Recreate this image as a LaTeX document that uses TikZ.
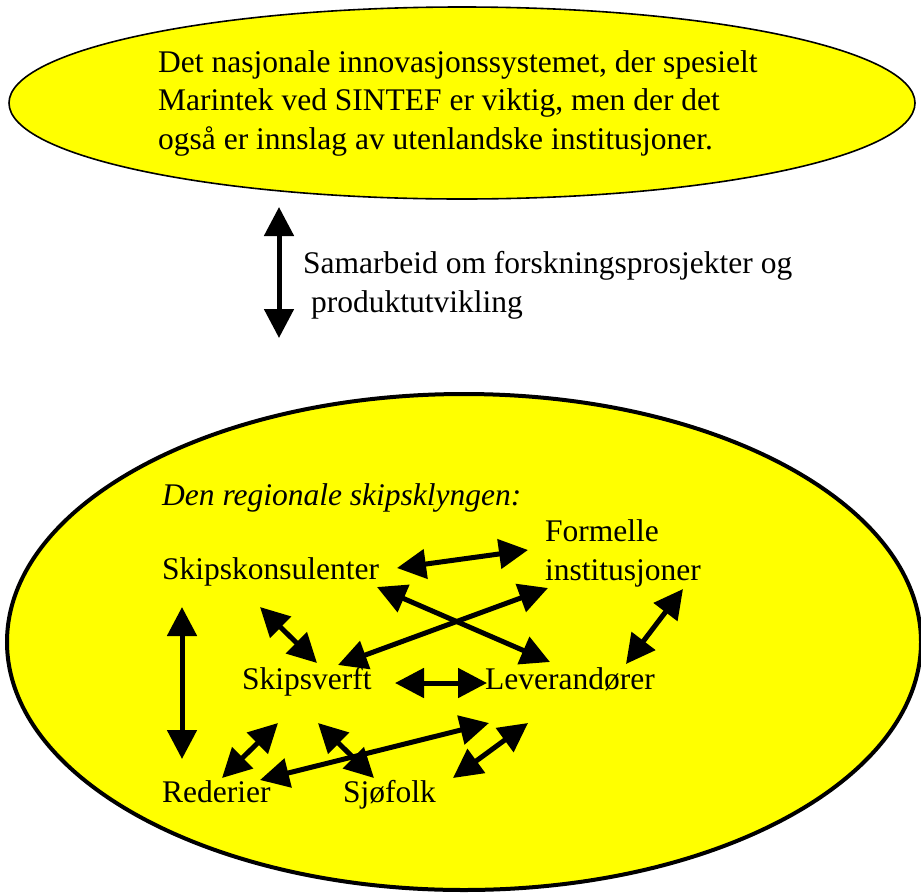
\documentclass[tikz,border=0pt]{standalone}
\usepackage{fontspec}
\setmainfont{Liberation Serif}
\usetikzlibrary{arrows.meta}
\definecolor{gul}{RGB}{255,255,0}

\tikzset{
  tekst/.style={inner sep=0pt, anchor=base west, align=left,
    font=\fontsize{31.5}{38.5}\selectfont},
  pil/.style={line width=5pt, {Triangle[length=29pt,width=29pt]}-{Triangle[length=29pt,width=29pt]}},
  boble/.style={fill=gul, draw=black}
}

\begin{document}
\begin{tikzpicture}[x=1pt,y=-1pt]
\useasboundingbox (0,0) rectangle (921,892);
\draw [boble, line width=1.6pt] (462,103) ellipse [x radius=453pt, y radius=96pt];
\draw [boble, line width=4pt] (464,642) ellipse [x radius=457pt, y radius=248pt];

\node [tekst] (tittel) at (158,149) {Det nasjonale innovasjonssystemet, der spesielt\\Marintek ved SINTEF er viktig, men der det\\også er innslag av utenlandske institusjoner.};
\node [tekst] (samarbeid) at (303,312) {Samarbeid om forskningsprosjekter og\\\hspace*{0.25em}produktutvikling};
\coordinate (m1) at (279,207);
\coordinate (m2) at (279,338);
\draw [pil] (m1) -- (m2);

\node [tekst, font=\fontsize{31.5}{38.5}\selectfont\itshape] (klynge) at (162,505) {Den regionale skipsklyngen:};
\node [tekst] (konsulent) at (162,579) {Skipskonsulenter};
\node [tekst] (formelle) at (545,580) {Formelle\\institusjoner};
\node [tekst] (verft) at (242,689) {Skipsverft};
\node [tekst] (leverandor) at (485,689) {Leverandører};
\node [tekst] (rederi) at (162,802) {Rederier};
\node [tekst] (sjofolk) at (343,802) {Sjøfolk};

\coordinate (kf1) at (397,568);
\coordinate (kf2) at (528,550);
\coordinate (vf1) at (338,665);
\coordinate (vf2) at (548,588);
\coordinate (kl1) at (377,587);
\coordinate (kl2) at (550,662);
\coordinate (kv1) at (260,607);
\coordinate (kv2) at (317,663);
\coordinate (fl1) at (683,589);
\coordinate (fl2) at (626,664);
\coordinate (kr1) at (182,607);
\coordinate (kr2) at (182,759);
\coordinate (vl1) at (395,683);
\coordinate (vl2) at (487,683);
\coordinate (rv1) at (222,778);
\coordinate (rv2) at (278,723);
\coordinate (sv1) at (318,723);
\coordinate (sv2) at (374,778);
\coordinate (rl1) at (260,780);
\coordinate (rl2) at (489,723);
\coordinate (sl1) at (453,778);
\coordinate (sl2) at (528,723);

\draw [pil] (kf1) -- (kf2);
\draw [pil] (vf1) -- (vf2);
\draw [pil] (kl1) -- (kl2);
\draw [pil] (kv1) -- (kv2);
\draw [pil] (fl1) -- (fl2);
\draw [pil] (kr1) -- (kr2);
\draw [pil] (vl1) -- (vl2);
\draw [pil] (rv1) -- (rv2);
\draw [pil] (sv1) -- (sv2);
\draw [pil] (rl1) -- (rl2);
\draw [pil] (sl1) -- (sl2);
\end{tikzpicture}
\end{document}
